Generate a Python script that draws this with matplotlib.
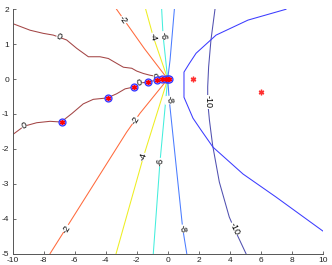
import matplotlib
matplotlib.use('Agg')
import matplotlib.pyplot as plt

plt.rcParams['font.family'] = ['Liberation Sans', 'DejaVu Sans']
plt.rcParams['axes.unicode_minus'] = False

# ---- contour level 0 ----
c0_up_x = [-10.06, -8.88, -8.03, -7.38, -6.52, -5.87, -5.12, -4.37, -3.83, -3.29, -2.86, -2.32, -2.0, -1.57, -1.14, -0.5, -0.06, 0.0]
c0_up_y = [1.60, 1.40, 1.31, 1.26, 1.12, 0.88, 0.64, 0.64, 0.59, 0.45, 0.34, 0.31, 0.23, 0.16, 0.11, 0.06, 0.02, 0.0]
c0_lo_x = [-10.06, -9.27, -8.45, -7.59, -6.88, -6.19, -5.45, -4.8, -3.9, -3.29, -2.75, -2.22, -1.83, -1.25, -0.65, -0.3, 0.0]
c0_lo_y = [-1.61, -1.35, -1.25, -1.21, -1.23, -0.99, -0.71, -0.58, -0.54, -0.42, -0.28, -0.23, -0.11, -0.09, -0.01, 0.0, 0.0]

# ---- contour level -2 ----
c2_up_x = [-3.3, -1.5, 0.0]
c2_up_y = [2.0, 0.87, 0.0]
c2_lo_x = [0.0, -1.79, -2.65, -7.59]
c2_lo_y = [0.0, -0.98, -1.52, -5.0]

# ---- contour level -4 ----
c4_up_x = [-1.42, -0.93, 0.0]
c4_up_y = [2.0, 1.21, 0.0]
c4_lo_x = [0.0, -1.57, -3.33]
c4_lo_y = [0.0, -2.23, -5.0]

# ---- contour level -6 ----
c6_up_x = [-0.39, -0.3, 0.0]
c6_up_y = [2.0, 1.25, 0.0]
c6_lo_x = [0.0, -0.5, -0.93]
c6_lo_y = [0.0, -2.38, -5.0]

# ---- contour level -8 ----
c8_x = [0.43, 0.15, 0.0, 0.1, 0.97, 1.23]
c8_y = [2.0, 0.54, 0.0, -0.6, -4.29, -5.0]

# ---- contour level -10 ----
c10_x = [3.05, 2.79, 2.64, 2.58, 2.58, 2.69, 2.79, 2.9, 3.33, 3.97, 4.3, 5.05]
c10_y = [2.0, 1.12, 0.35, -0.22, -0.65, -1.17, -1.52, -1.9, -2.95, -3.95, -4.29, -5.0]

# ---- blue boundary curve ----
bc_x = [7.63, 5.18, 3.12, 1.83, 1.4, 1.05, 1.05, 1.63, 2.15, 2.92, 4.86, 6.99, 10.0]
bc_y = [2.0, 1.69, 1.26, 0.74, 0.45, 0.2, -0.52, -1.12, -1.46, -1.95, -2.72, -3.38, -4.35]

# ---- circled points ----
pts_x = [-6.85, -3.88, -2.2, -1.24, -0.66, -0.35, -0.14, 0.0, 0.1]
pts_y = [-1.23, -0.54, -0.23, -0.09, -0.02, 0.0, 0.0, 0.0, 0.0]

# ---- isolated stars ----
star_x = [1.62, 6.04]
star_y = [0.0, -0.36]

# ---- contour labels ----
lab_text = ['0', '0', '0', '0', '-2', '-2', '-2', '-4', '-4', '-6', '-6', '-8', '-8', '-10', '-10']
lab_x = [-7.0, -9.27, -1.83, -0.75, -2.86, -2.1, -6.52, -0.93, -1.57, -0.3, -0.5, 0.1, 0.97, 2.58, 4.3]
lab_y = [1.21, -1.35, -0.11, 0.04, 1.69, -1.18, -4.29, 1.21, -2.23, 1.25, -2.38, -0.6, -4.29, -0.65, -4.29]
lab_rot = [-25, 20, 15, 5, -55, 58, 58, -73, 74, -86, 86, -84, -84, -90, -65]

col0 = '#a34545'
col2 = '#ff6a3c'
col4 = '#eeee22'
col6 = '#44eedd'
col8 = '#4a7cff'
col10 = '#5050b0'
colb = '#3c3cff'

fig = plt.figure(figsize=(3.32, 2.65), dpi=100)
ax = fig.add_axes([0.0383, 0.043, 0.9337, 0.922])

lw = 0.75
ax.plot(c0_up_x, c0_up_y, color=col0, lw=lw)
ax.plot(c0_lo_x, c0_lo_y, color=col0, lw=lw)
ax.plot(c2_up_x, c2_up_y, color=col2, lw=lw)
ax.plot(c2_lo_x, c2_lo_y, color=col2, lw=lw)
ax.plot(c4_up_x, c4_up_y, color=col4, lw=lw)
ax.plot(c4_lo_x, c4_lo_y, color=col4, lw=lw)
ax.plot(c6_up_x, c6_up_y, color=col6, lw=lw)
ax.plot(c6_lo_x, c6_lo_y, color=col6, lw=lw)
ax.plot(c8_x, c8_y, color=col8, lw=lw)
ax.plot(c10_x, c10_y, color=col10, lw=lw)
ax.plot(bc_x, bc_y, color=colb, lw=lw)

ax.plot(pts_x, pts_y, linestyle='none', marker='o', markersize=5,
        markerfacecolor='#b8a8ff', markeredgecolor='#3535ff', markeredgewidth=0.9, zorder=5)
ax.plot(pts_x, pts_y, linestyle='none', marker=(6, 2, 0), markersize=3.5,
        markeredgewidth=1.0, color='red', zorder=6)
ax.plot(star_x, star_y, linestyle='none', marker=(6, 2, 0), markersize=4,
        markeredgewidth=1.0, color='#ff3030', zorder=6)

for t, x, y, r in zip(lab_text, lab_x, lab_y, lab_rot):
    ax.text(x, y, t, rotation=r, fontsize=6.5, ha='center', va='center',
            rotation_mode='anchor', zorder=4,
            bbox=dict(facecolor='white', edgecolor='none', pad=0.2))

ax.set_xlim(-10, 10)
ax.set_ylim(-5, 2)
ax.set_xticks(range(-10, 11, 2))
ax.set_yticks(range(-5, 3))
for s in ['top', 'right']:
    ax.spines[s].set_visible(False)
for s in ['left', 'bottom']:
    ax.spines[s].set_color('#555555')
    ax.spines[s].set_linewidth(0.7)
ax.tick_params(direction='in', length=2.5, width=0.6, color='#555555',
               labelsize=6, labelcolor='#222222', pad=2.5)

fig.savefig('out.png', dpi=100)
